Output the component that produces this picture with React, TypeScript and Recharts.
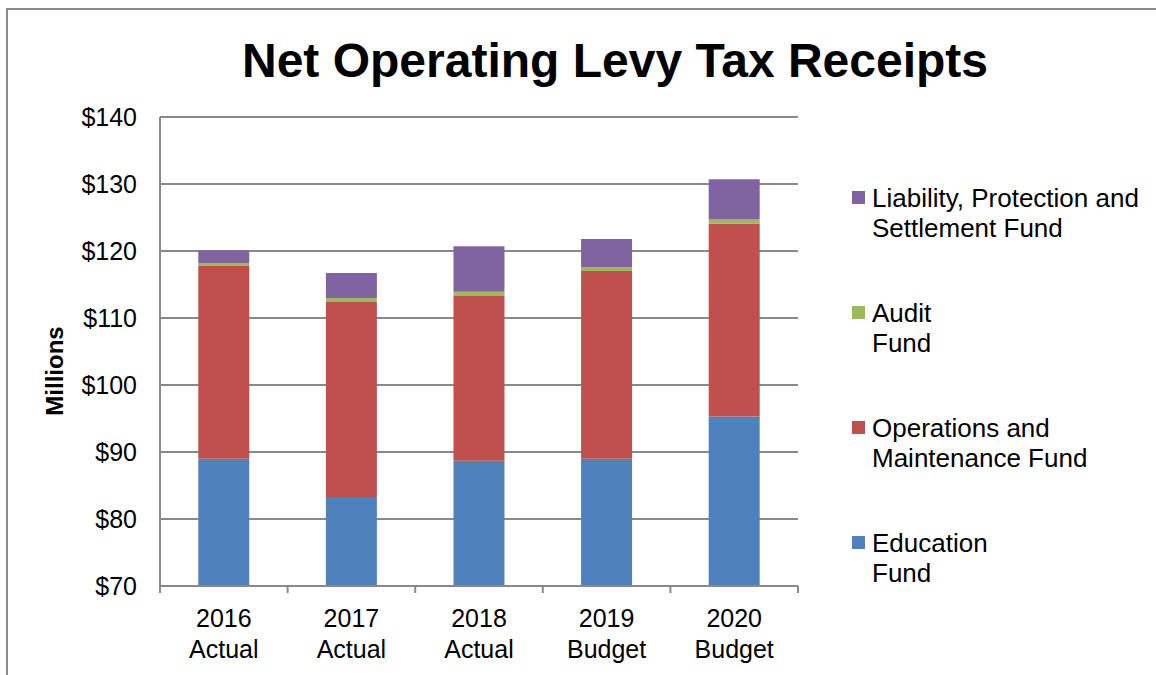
import React from 'react';
import { BarChart, Bar, XAxis, YAxis, CartesianGrid, Legend } from 'recharts';

const years = ['2016', '2017', '2018', '2019', '2020'];
const kinds = ['Actual', 'Actual', 'Actual', 'Budget', 'Budget'];
const education = [89.0, 83.3, 88.7, 89.0, 95.3];
const operations = [28.75, 29.1, 24.6, 28.0, 28.8];
const audit = [0.45, 0.6, 0.6, 0.6, 0.6];
const liability = [1.9, 3.7, 6.8, 4.2, 6.0];
const yTicks = [70, 80, 90, 100, 110, 120, 130, 140];

const nameEducation = 'Education\nFund';
const nameOperations = 'Operations and\nMaintenance Fund';
const nameAudit = 'Audit\nFund';
const nameLiability = 'Liability, Protection and\nSettlement Fund';
const legendOrder = [nameLiability, nameAudit, nameOperations, nameEducation];

const data = years.map((y, i) => ({
  cat: `${y}\n${kinds[i]}`,
  education: education[i],
  operations: operations[i],
  audit: audit[i],
  liability: liability[i],
}));

const FONT = '"Liberation Sans", Arial, sans-serif';
const GRID = '#898989';

const CatTick = (props: any) => {
  const { x, y, payload, index, visibleTicksCount } = props;
  const half = payload && typeof payload.offset === 'number' && payload.offset > 0 ? payload.offset : 63.75;
  const lines = String(payload.value).split('\n');
  const last = index === (visibleTicksCount ?? data.length) - 1;
  return (
    <g>
      <line x1={x - half} x2={x - half} y1={y} y2={y + 7} stroke={GRID} strokeWidth={2} />
      {last && <line x1={x + half} x2={x + half} y1={y} y2={y + 7} stroke={GRID} strokeWidth={2} />}
      <text x={x} y={y + 41} textAnchor="middle" fontSize={25} fontFamily={FONT} fill="#000">{lines[0]}</text>
      <text x={x} y={y + 72} textAnchor="middle" fontSize={25} fontFamily={FONT} fill="#000">{lines[1]}</text>
    </g>
  );
};

const renderLegend = (props: any) => {
  const items = [...(props.payload || [])].sort(
    (a: any, b: any) => legendOrder.indexOf(a.value) - legendOrder.indexOf(b.value)
  );
  return (
    <div style={{ fontFamily: FONT, fontSize: 26, lineHeight: '30px', color: '#000' }}>
      {items.map((it: any, i: number) => (
        <div key={i} style={{ position: 'relative', height: 60, marginBottom: 55, paddingLeft: 20, whiteSpace: 'pre-line' }}>
          <span style={{ position: 'absolute', left: 0, top: 8, width: 13, height: 13, background: it.color }} />
          {it.value}
        </div>
      ))}
    </div>
  );
};

export default function App() {
  return (
    <div style={{ position: 'relative', width: 1156, height: 675, overflow: 'hidden', background: '#fff' }}>
      <style>{`body{margin:0;overflow:hidden;}`}</style>
      <div style={{ position: 'absolute', left: 6, top: 8, width: 1200, height: 720, borderLeft: `2px solid ${GRID}`, borderTop: `2px solid ${GRID}`, pointerEvents: 'none' }} />
      <div style={{ position: 'absolute', left: 0, top: 37, width: 1230, textAlign: 'center', fontFamily: FONT, fontWeight: 'bold', fontSize: 48, lineHeight: '48px', color: '#000' }}>
        Net Operating Levy Tax Receipts
      </div>
      <div style={{ position: 'absolute', left: 0, top: 0 }}>
        <BarChart width={1156} height={675} data={data} margin={{ top: 117, right: 358, bottom: 0, left: 0 }} barCategoryGap="30%">
          <CartesianGrid horizontal vertical={false} stroke={GRID} strokeWidth={2} />
          <XAxis dataKey="cat" height={89} interval={0} tickLine={false} tickSize={0} tickMargin={0} tick={<CatTick />} axisLine={{ stroke: GRID, strokeWidth: 2 }} />
          <YAxis
            width={160}
            domain={[70, 140]}
            ticks={yTicks}
            allowDataOverflow
            interval={0}
            tickLine={false}
            tickSize={0}
            tickMargin={23}
            tickFormatter={(v: number) => `$${v}`}
            tick={{ fontSize: 25, fontFamily: FONT, fill: '#000' }}
            axisLine={{ stroke: GRID, strokeWidth: 2 }}
            label={{
              content: () => (
                <text x={63} y={371} transform="rotate(-90 63 371)" textAnchor="middle" fontSize={24} fontWeight="bold" fontFamily={FONT} fill="#000">Millions</text>
              ),
            }}
          />
          <Legend layout="vertical" align="center" verticalAlign="middle" wrapperStyle={{ left: 852, top: 183, width: 300 }} content={renderLegend} />
          <Bar dataKey="education" name={nameEducation} stackId="a" fill="#4F81BD" isAnimationActive={false} />
          <Bar dataKey="operations" name={nameOperations} stackId="a" fill="#C0504D" isAnimationActive={false} />
          <Bar dataKey="audit" name={nameAudit} stackId="a" fill="#9BBB59" isAnimationActive={false} />
          <Bar dataKey="liability" name={nameLiability} stackId="a" fill="#8064A2" isAnimationActive={false} />
        </BarChart>
      </div>
    </div>
  );
}
